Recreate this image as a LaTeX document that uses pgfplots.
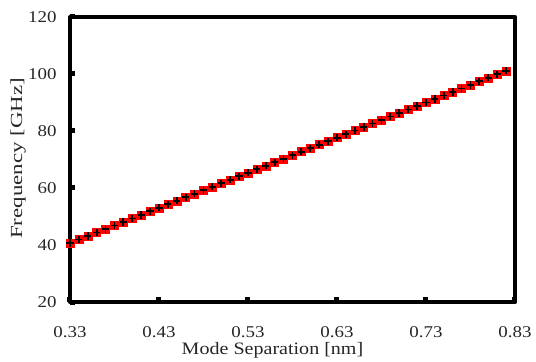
\documentclass[border=0pt]{standalone}
\usepackage{pgfplots}
\pgfplotsset{compat=1.18}
\usepackage{fontspec}
\setmainfont{Liberation Serif}
\newfontfamily\wideserif[FakeStretch=1.15]{Liberation Serif}
\newfontfamily\widerserif[FakeStretch=1.35]{Liberation Serif}
\begin{document}
\begin{tikzpicture}
\useasboundingbox (-70bp,-60bp) rectangle (466bp,302bp);
\begin{axis}[
  at={(0,0)}, anchor=south west,
  scale only axis, width=445bp, height=285bp,
  xmin=0.33, xmax=0.83, ymin=20, ymax=120,
  xtick={0.33,0.43,0.53,0.63,0.73,0.83},
  ytick={20,40,60,80,100,120},
  xticklabels={0.33,0.43,0.53,0.63,0.73,0.83},
  tick pos=left, tick align=inside,
  major tick length=5.5bp,
  every tick/.style={black, line width=5bp},
  axis line style={line width=4.5bp, line join=round},
  /pgf/number format/assume math mode=true,
  ticklabel style={font=\wideserif\fontsize{16.5}{18}\selectfont, text=black!85},
  xticklabel style={anchor=center, yshift=-30bp},
  yticklabel style={anchor=east, xshift=-10bp},
  xlabel={Mode Separation [nm]},
  ylabel={Frequency [GHz]},
  xlabel style={font=\wideserif\fontsize{17.5}{18}\selectfont, text=black!85, at={(axis description cs:0.5,0)}, anchor=center, yshift=-48bp, xshift=-20bp},
  ylabel style={font=\widerserif\fontsize{17}{18}\selectfont, text=black!85, at={(axis description cs:0,0.5)}, anchor=center, yshift=52bp, xshift=1bp},
  clip=false,
]
\addplot[only marks, mark=square*, mark size=4bp, mark options={fill=red, draw=red}] coordinates {
(0.33,40.69)(0.34,41.92)(0.35,43.16)(0.36,44.39)(0.37,45.62)(0.38,46.85)(0.39,48.09)(0.40,49.32)(0.41,50.55)(0.42,51.79)
(0.43,53.02)(0.44,54.25)(0.45,55.49)(0.46,56.72)(0.47,57.95)(0.48,59.18)(0.49,60.42)(0.50,61.65)(0.51,62.88)(0.52,64.12)
(0.53,65.35)(0.54,66.58)(0.55,67.82)(0.56,69.05)(0.57,70.28)(0.58,71.51)(0.59,72.75)(0.60,73.98)(0.61,75.21)(0.62,76.45)
(0.63,77.68)(0.64,78.91)(0.65,80.15)(0.66,81.38)(0.67,82.61)(0.68,83.84)(0.69,85.08)(0.70,86.31)(0.71,87.54)(0.72,88.78)
(0.73,90.01)(0.74,91.24)(0.75,92.48)(0.76,93.71)(0.77,94.94)(0.78,96.17)(0.79,97.41)(0.80,98.64)(0.81,99.87)(0.82,101.11)
};
\addplot[only marks, mark=+, mark size=3.6bp, mark options={draw=black, line width=1.8bp}] coordinates {
(0.33,40.69)(0.34,41.92)(0.35,43.16)(0.36,44.39)(0.37,45.62)(0.38,46.85)(0.39,48.09)(0.40,49.32)(0.41,50.55)(0.42,51.79)
(0.43,53.02)(0.44,54.25)(0.45,55.49)(0.46,56.72)(0.47,57.95)(0.48,59.18)(0.49,60.42)(0.50,61.65)(0.51,62.88)(0.52,64.12)
(0.53,65.35)(0.54,66.58)(0.55,67.82)(0.56,69.05)(0.57,70.28)(0.58,71.51)(0.59,72.75)(0.60,73.98)(0.61,75.21)(0.62,76.45)
(0.63,77.68)(0.64,78.91)(0.65,80.15)(0.66,81.38)(0.67,82.61)(0.68,83.84)(0.69,85.08)(0.70,86.31)(0.71,87.54)(0.72,88.78)
(0.73,90.01)(0.74,91.24)(0.75,92.48)(0.76,93.71)(0.77,94.94)(0.78,96.17)(0.79,97.41)(0.80,98.64)(0.81,99.87)(0.82,101.11)
};
\end{axis}
\end{tikzpicture}
\end{document}
